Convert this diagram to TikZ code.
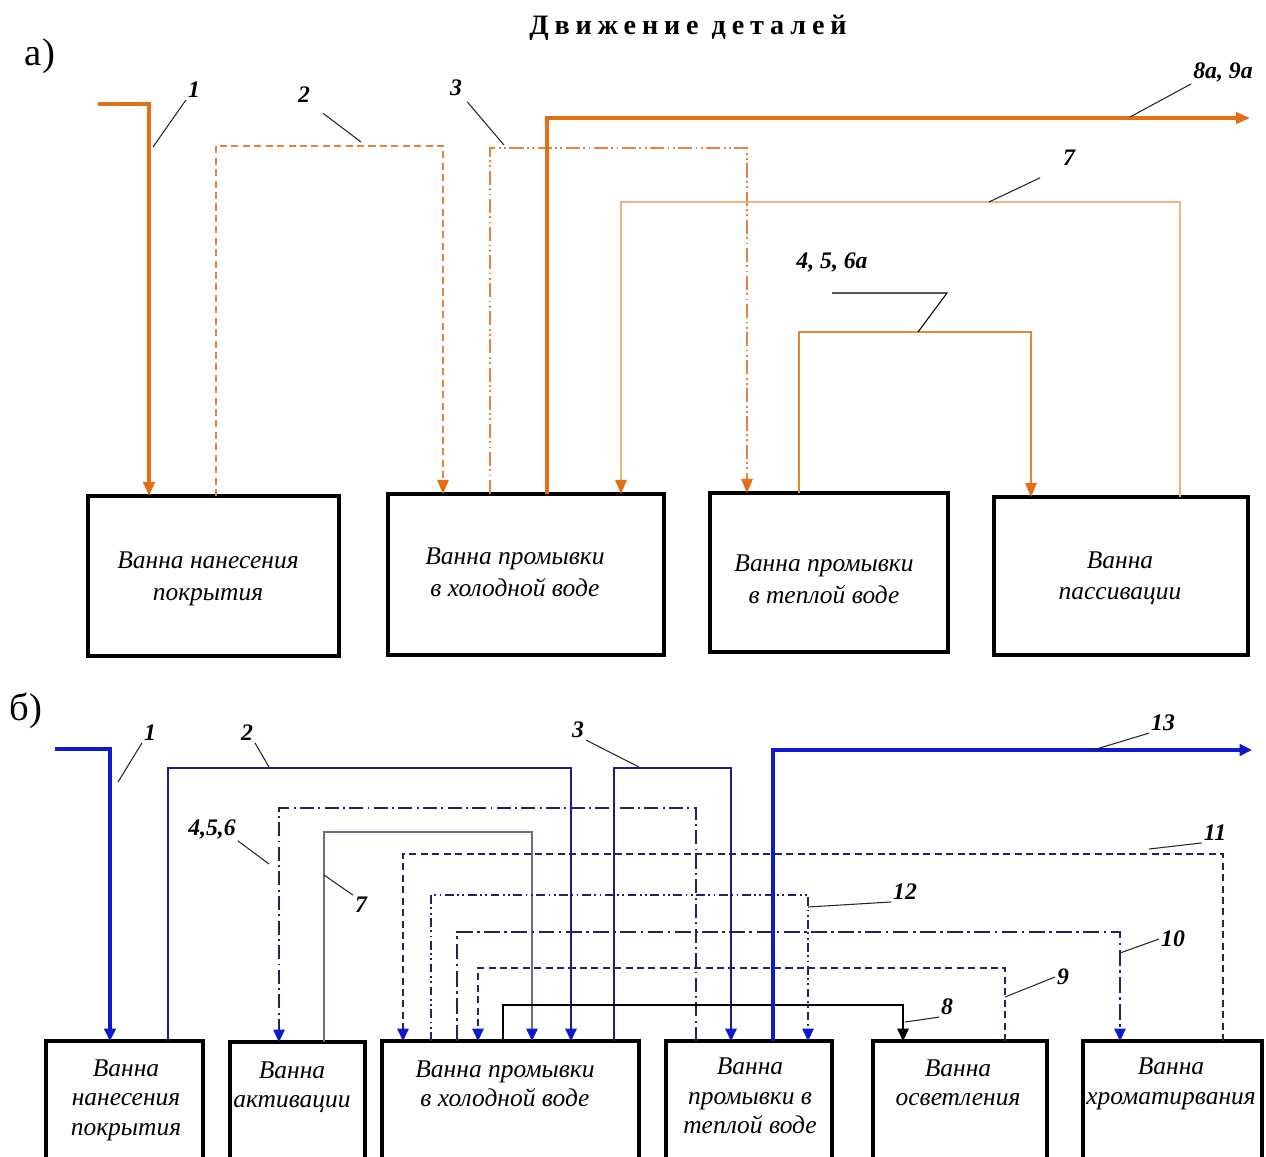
\documentclass[tikz,border=0pt]{standalone}
\usepackage{fontspec}
\setmainfont{Liberation Serif}
\newfontfamily\bathfont{Liberation Serif}
\newfontfamily\titlefont[LetterSpace=21]{Liberation Serif}
\usetikzlibrary{arrows.meta}
\definecolor{orangeA}{RGB}{228,110,22}
\definecolor{orangeM}{RGB}{222,138,50}
\definecolor{orangeL}{RGB}{238,180,125}
\definecolor{orangeD}{RGB}{230,130,60}
\definecolor{blueA}{RGB}{15,25,205}
\definecolor{navy}{RGB}{30,30,120}
\definecolor{grayblue}{RGB}{110,110,140}
\definecolor{darknavy}{RGB}{35,35,95}
\tikzset{
  bath/.style={draw, line width=2pt, anchor=north west, inner sep=0pt, outer sep=0pt},
  bathtxt/.style={font=\bathfont\itshape\fontsize{14.5}{18}\selectfont, align=center, inner sep=0pt},
  bathtxtb/.style={bathtxt, font=\bathfont\itshape\fontsize{14.5}{16.8}\selectfont},
  num/.style={font=\bfseries\itshape\fontsize{13.5}{14}\selectfont, inner sep=1pt},
  leader/.style={draw=black!85, line width=0.6pt},
  % part a)
  orthk/.style={draw=orangeA, line width=1.8pt},
  ormid/.style={draw=orangeM, line width=1.1pt},
  orlight/.style={draw=orangeL, line width=0.8pt},
  ordash/.style={draw=orangeD, line width=0.7pt, dash pattern=on 4pt off 2.5pt},
  ordots/.style={draw=orangeD, line width=0.7pt, dash pattern=on 8pt off 2pt on 1pt off 2pt on 1pt off 2pt},
  atip/.style={-{Triangle[length=8pt,width=6.5pt,color=orangeA]}},
  % part b)
  blthk/.style={draw=blueA, line width=1.8pt},
  blthin/.style={draw=navy, line width=0.8pt},
  blgray/.style={draw=grayblue, line width=0.6pt},
  bldash/.style={draw=darknavy, line width=0.7pt, dash pattern=on 4pt off 2.5pt},
  bldotA/.style={draw=darknavy, line width=0.7pt, dash pattern=on 8pt off 2.5pt on 1pt off 2.5pt},
  bldotB/.style={draw=darknavy, line width=0.7pt, dash pattern=on 9pt off 2.5pt on 1.5pt off 2.5pt},
  bldotC/.style={draw=darknavy, line width=0.7pt, dash pattern=on 5pt off 2pt on 1pt off 2pt on 1pt off 2pt},
  blk/.style={draw=black, line width=0.8pt},
  btip/.style={-{Triangle[length=7pt,width=6.5pt,color=blueA]}},
  ktip/.style={-{Triangle[length=7pt,width=6.5pt,color=black]}}
}
\begin{document}
\begin{tikzpicture}[x=0.02cm, y=-0.02cm]
\def\px{0.02cm}
\useasboundingbox (0,0) rectangle (1266,1156);
\clip (0,0) rectangle (1266,1156);
% Title and part marks
\node[font=\titlefont\bfseries\fontsize{16}{18}\selectfont] (title) at (688,28) {Движение деталей};
\node[font=\fontsize{22}{24}\selectfont] (parta) at (40,56) {а)};
\node[font=\fontsize{22}{24}\selectfont] (partb) at (26,711) {б)};

% ---------- a) baths
\node[bath, minimum width=251*\px, minimum height=160*\px] (ba1) at (88,496) {};
\node[bath, minimum width=276*\px, minimum height=161*\px] (ba2) at (388,494) {};
\node[bath, minimum width=238*\px, minimum height=159*\px] (ba3) at (710,493) {};
\node[bath, minimum width=254*\px, minimum height=158*\px] (ba4) at (994,497) {};
\node[bathtxt] (ta1) at (208,579) {Ванна нанесения\\покрытия};
\node[bathtxt] (ta2) at (515,572) {Ванна промывки\\в холодной воде};
\node[bathtxt] (ta3) at (824,579) {Ванна промывки\\в теплой воде};
\node[bathtxt] (ta4) at (1120,578) {Ванна\\пассивации};

% ---------- a) flows
\coordinate (a1in) at (98,104);
\coordinate (a8out) at (1250,118);
\draw[orthk, atip] (a1in) -| (ba1.north -| 149,0);
\draw[ordash, atip] (ba1.north -| 216,0) |- (443,146) -- (ba2.north -| 443,0);
\draw[ordots, atip] (ba2.north -| 490,0) |- (747,148) -- (ba3.north -| 747,0);
\draw[orthk, atip] (ba2.north -| 547,0) |- (a8out);
\draw[orlight, atip] (ba4.north -| 1180,0) |- (621,202) -- (ba2.north -| 621,0);
\draw[ormid, atip] (ba3.north -| 799,0) |- (1031,332) -- (ba4.north -| 1031,0);

% ---------- a) labels
\node[num] (la1) at (194,90) {1};
\node[num] (la2) at (304,95) {2};
\node[num] (la3) at (456,88) {3};
\node[num] (la8) at (1223,72) {8а, 9а};
\node[num] (la7) at (1069,158) {7};
\node[num] (la456) at (832,262) {4, 5, 6а};
\coordinate (pa1) at (153,147);
\coordinate (pa2) at (361,142);
\coordinate (pa3) at (504,145);
\coordinate (pa8) at (1130,117);
\coordinate (pa7) at (989,202);
\coordinate (pa456) at (918,332);
\draw[leader] (pa1) -- (la1.south west);
\draw[leader, shorten >=0.28cm] (pa2) -- (la2.south east);
\draw[leader, shorten >=0.1cm] (pa3) -- (la3.south east);
\draw[leader] (pa8) -- (la8.south west);
\draw[leader, shorten >=0.46cm] (pa7) -- (la7.south west);
\draw[leader, draw=black] (pa456) -- ++(29,-39) -- (la456.south |- 0,293);

% ---------- b) baths
\node[bath, minimum width=157*\px, minimum height=130*\px] (bb1) at (46,1041) {};
\node[bath, minimum width=135*\px, minimum height=130*\px] (bb2) at (230,1042) {};
\node[bath, minimum width=257*\px, minimum height=130*\px] (bb3) at (382,1041) {};
\node[bath, minimum width=166*\px, minimum height=130*\px] (bb4) at (666,1041) {};
\node[bath, minimum width=174*\px, minimum height=130*\px] (bb5) at (873,1041) {};
\node[bath, minimum width=179*\px, minimum height=130*\px] (bb6) at (1083,1041) {};
\node[bathtxtb] (tb1) at (126,1100) {Ванна\\нанесения\\покрытия};
\node[bathtxtb] (tb2) at (292,1087) {Ванна\\активации};
\node[bathtxtb] (tb3) at (505,1084) {Ванна промывки\\в холодной воде};
\node[bathtxtb] (tb4) at (750,1096) {Ванна\\промывки в\\теплой воде};
\node[bathtxtb] (tb5) at (958,1083) {Ванна\\осветления};
\node[bathtxtb] (tb6) at (1171,1084) {Ванна\\хроматирвания};

% ---------- b) flows
\coordinate (b1in) at (55,749);
\coordinate (b13out) at (1252,750);
\draw[blthk, btip] (b1in) -| (bb1.north -| 110,0);
\draw[blthin, btip] (bb1.north -| 168,0) |- (571,768) -- (bb3.north -| 571,0);
\draw[blthin, btip] (bb3.north -| 614,0) |- (731,768) -- (bb4.north -| 731,0);
\draw[bldotA, btip] (bb4.north -| 696,0) |- (279,808) -- (bb2.north -| 279,0);
\draw[blgray, btip] (bb2.north -| 324,0) |- (532,832) -- (bb3.north -| 532,0);
\draw[bldash, btip] (bb6.north -| 1223,0) |- (403,854) -- (bb3.north -| 403,0);
\draw[bldotC, btip] (bb3.north -| 431,0) |- (808,895) -- (bb4.north -| 808,0);
\draw[bldotB, btip] (bb3.north -| 457,0) |- (1120,932) -- (bb6.north -| 1120,0);
\draw[bldash, btip] (bb5.north -| 1005,0) |- (478,968) -- (bb3.north -| 478,0);
\draw[blk, ktip] (bb3.north -| 503,0) |- (903,1005) -- (bb5.north -| 903,0);
\draw[blthk, btip] (bb4.north -| 773,0) |- (b13out);

% ---------- b) labels
\node[num] (lb1) at (150,733) {1};
\node[num] (lb2) at (247,733) {2};
\node[num] (lb3) at (578,730) {3};
\node[num] (lb456) at (212,829) {4,5,6};
\node[num] (lb7) at (361,905) {7};
\node[num] (lb13) at (1163,723) {13};
\node[num] (lb11) at (1215,833) {11};
\node[num] (lb12) at (905,892) {12};
\node[num] (lb10) at (1173,939) {10};
\node[num] (lb9) at (1063,977) {9};
\node[num] (lb8) at (947,1007) {8};
\coordinate (pb1) at (118,782);
\coordinate (pb2) at (269,767);
\coordinate (pb3) at (639,767);
\coordinate (pb456) at (269,864);
\coordinate (pb7) at (324,875);
\coordinate (pb13) at (1093,750);
\coordinate (pb11) at (1149,849);
\coordinate (pb12) at (808,907);
\coordinate (pb10) at (1120,953);
\coordinate (pb9) at (1005,997);
\coordinate (pb8) at (905,1022);
\draw[leader] (pb1) -- (lb1.south west);
\draw[leader] (pb2) -- (lb2.south east);
\draw[leader] (pb3) -- (lb3.south east);
\draw[leader] (pb456) -- (lb456.south east);
\draw[leader] (pb7) -- (lb7.north west);
\draw[leader] (pb13) -- (lb13.south west);
\draw[leader] (pb11) -- (lb11.south west);
\draw[leader] (pb12) -- (lb12.south west);
\draw[leader] (pb10) -- (lb10.west);
\draw[leader] (pb9) -- (lb9.west);
\draw[leader] (pb8) -- (lb8.south west);
\end{tikzpicture}
\end{document}
